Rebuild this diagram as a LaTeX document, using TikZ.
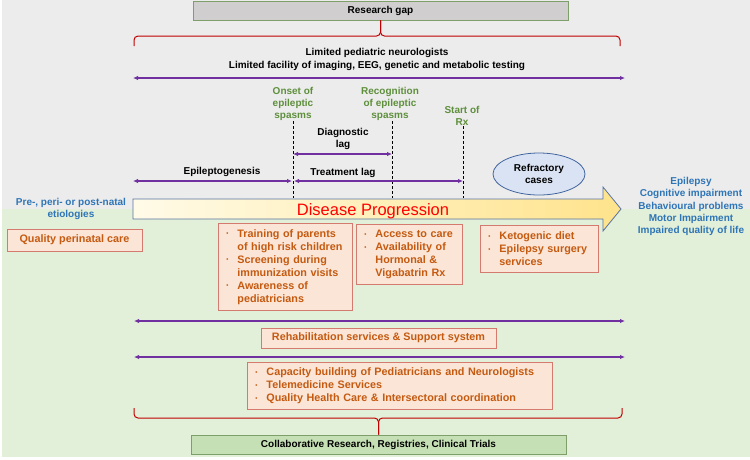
\documentclass[tikz,border=0pt]{standalone}
\usepackage{fontspec}
\setmainfont{Liberation Sans}
\usepackage{tikz}
\usetikzlibrary{arrows.meta}
\usetikzlibrary{shapes.geometric}
\definecolor{bggray}{HTML}{ECECEC}
\definecolor{bggreen}{HTML}{E2EFD9}
\definecolor{gapfill}{HTML}{D0CECE}
\definecolor{gapedge}{HTML}{7F9F6A}
\definecolor{collabfill}{HTML}{C5E0B4}
\definecolor{bracered}{HTML}{C00000}
\definecolor{lagpurple}{HTML}{7030A0}
\definecolor{stagegreen}{HTML}{5E8F3C}
\definecolor{outblue}{HTML}{2E75B6}
\definecolor{actfill}{HTML}{FBE5D6}
\definecolor{actedge}{HTML}{D57A6E}
\definecolor{acttext}{HTML}{C55A11}
\definecolor{refrfill}{HTML}{DAE3F3}
\definecolor{refredge}{HTML}{41659F}
\definecolor{progleft}{HTML}{FFFBE8}
\definecolor{progright}{HTML}{FFE38C}
\definecolor{progedge}{HTML}{5A74A0}
\newcommand{\bul}{\makebox[11pt][l]{\raisebox{1.5pt}{\fontsize{6}{6}\selectfont\textbullet}}}
\newcommand{\ind}{\hspace*{11pt}}

\begin{document}
\begin{tikzpicture}[x=1pt,y=-1pt,
	lbl/.style={font=\fontsize{10}{12.3}\selectfont\bfseries,align=center,inner sep=0pt},
	act/.style={draw=actedge,line width=0.9pt,fill=actfill,text=acttext,font=\fontsize{10.8}{13}\selectfont\bfseries,inner sep=0pt},
	actlist/.style={act,align=left,inner xsep=8pt,anchor=north west},
	gapbox/.style={draw=gapedge,line width=0.9pt,font=\fontsize{10}{12}\selectfont\bfseries,inner sep=0pt,minimum width=375pt,minimum height=19pt},
	lag/.style={draw=lagpurple,line width=1.5pt,{Latex[length=5pt,width=4.5pt]}-{Latex[length=5pt,width=4.5pt]}},
	vline/.style={black,line width=1pt,dash pattern=on 3pt off 2pt},
	brc/.style={draw=bracered,line width=1pt,rounded corners=4pt}]
	\useasboundingbox (0,0) rectangle (750,459);
	\fill[bggray] (2,0) rectangle (750,209);
	\fill[bggreen] (2,209) rectangle (750,457);

	% top: research gap
	\node[gapbox,fill=gapfill,anchor=north] (gap) at (380.5,0.5) {Research gap};
	\coordinate (tbl) at (134,46);
	\coordinate (tbr) at (620,46);
	\draw[brc] (tbl) |- (gap.south |- 0,36) -- (gap.south);
	\draw[brc] (tbr) |- (gap.south |- 0,36) -- (gap.south);
	\node[lbl] (limits) at (377,59.5) {Limited pediatric neurologists\\Limited facility of imaging, EEG, genetic and metabolic testing};
	\coordinate (la) at (133,78);
	\coordinate (lb) at (625,78);
	\draw[lag] (la) -- (lb);

	% time points
	\node[lbl,text=stagegreen] (onset) at (293,104) {Onset of\\epileptic\\spasms};
	\node[lbl,text=stagegreen] (recog) at (390,104) {Recognition\\of epileptic\\spasms};
	\node[lbl,text=stagegreen] (start) at (462,116) {Start of\\Rx};
	\coordinate (t1) at (293,198);
	\coordinate (t2) at (392,198);
	\coordinate (t3) at (463,198);
	\draw[vline] (onset.south -| t1) -- (t1);
	\draw[vline] (recog.south -| t2) -- (t2);
	\draw[vline] (start.south -| t3) -- (t3);

	% lags
	\node[lbl] (diag) at (343,139) {Diagnostic\\lag};
	\node[lbl] (treat) at (343,173) {Treatment lag};
	\node[lbl] (epig) at (222,172) {Epileptogenesis};
	\coordinate (d1) at (293,154);
	\coordinate (d2) at (392,154);
	\coordinate (e1) at (133,181);
	\coordinate (e2) at (292,181);
	\coordinate (r1) at (294,181);
	\coordinate (r2) at (463,181);
	\draw[lag] (d1) -- (d2);
	\draw[lag] (e1) -- (e2);
	\draw[lag] (r1) -- (r2);
	\node[ellipse,draw=refredge,fill=refrfill,line width=0.8pt,minimum width=92pt,minimum height=42pt,lbl] (refr) at (539,174) {Refractory\\cases};

	% disease progression
	\path[draw=progedge,line width=0.8pt,left color=progleft,right color=progright]
		(133,199) -- (603,199) -- (603,187) -- (621,209) -- (603,231) -- (603,219) -- (133,219) -- cycle;
	\node[font=\fontsize{16.5}{18}\selectfont,text=red,anchor=base] (prog) at (373,215.5) {Disease Progression};
	\node[lbl,text=outblue] (cause) at (71,209) {Pre-, peri- or post-natal\\etiologies};
	\node[lbl,text=outblue] (outcome) at (691,206.5) {Epilepsy\\Cognitive impairment\\Behavioural problems\\Motor Impairment\\Impaired quality of life};

	% interventions
	\node[act,minimum width=135pt,minimum height=22pt] (perinat) at (74.5,240) {Quality perinatal care};
	\node[actlist,text width=118pt,minimum height=87pt] (early) at (218,223) {\bul Training of parents\\\ind of high risk children\\\bul Screening during\\\ind immunization visits\\\bul Awareness of\\\ind pediatricians};
	\node[actlist,text width=90pt,minimum height=60pt] (access) at (356,224) {\bul Access to care\\\bul Availability of\\\ind Hormonal \&\\\ind Vigabatrin Rx};
	\node[actlist,text width=102pt,minimum height=47pt] (keto) at (480,225) {\bul Ketogenic diet\\\bul Epilepsy surgery\\\ind services};

	\coordinate (m1) at (134,321);
	\coordinate (m2) at (625,321);
	\draw[lag] (m1) -- (m2);
	\node[act,minimum width=235pt,minimum height=20pt] (rehab) at (378.5,338) {Rehabilitation services \& Support system};
	\coordinate (n1) at (134,357);
	\coordinate (n2) at (625,357);
	\draw[lag] (n1) -- (n2);
	\node[actlist,text width=289pt,minimum height=47pt] (capac) at (247,362) {\bul Capacity building of Pediatricians and Neurologists\\\bul Telemedicine Services\\\bul Quality Health Care \& Intersectoral coordination};

	% bottom: collaboration
	\node[gapbox,fill=collabfill] (collab) at (378.5,444.5) {Collaborative Research, Registries, Clinical Trials};
	\coordinate (bbl) at (134,408);
	\coordinate (bbr) at (622,408);
	\draw[brc] (bbl) |- (collab.north |- 0,418) -- (collab.north);
	\draw[brc] (bbr) |- (collab.north |- 0,418) -- (collab.north);
\end{tikzpicture}
\end{document}
